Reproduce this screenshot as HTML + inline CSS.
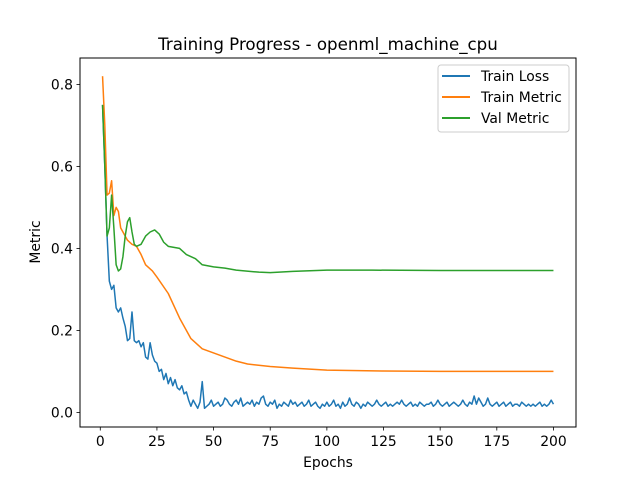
<!DOCTYPE html>
<html><head><meta charset="utf-8"><style>
html,body{margin:0;padding:0;background:#fff;}
svg{display:block;font-family:"DejaVu Sans","Liberation Sans",sans-serif;}
</style></head><body>
<svg id="chart" width="640" height="480" xmlns="http://www.w3.org/2000/svg">
<rect width="640" height="480" fill="#fff"/>
<text x="328" y="50" font-size="16.67" text-anchor="middle">Training Progress - openml_machine_cpu</text>
<g id="plot"></g>
<rect x="80" y="58" width="496" height="369" fill="none" stroke="#000" stroke-width="1"/>
<text x="328" y="467" font-size="13.9" text-anchor="middle">Epochs</text>
<text transform="translate(40,242) rotate(-90)" font-size="13.9" text-anchor="middle">Metric</text>
<g>
<rect x="438" y="65" width="131" height="67" rx="3" fill="#fff" fill-opacity="0.8" stroke="#ccc"/>
<g><line x1="442" y1="76" x2="470" y2="76" stroke="#1f77b4" stroke-width="2"/><text x="481" y="81" font-size="13.9">Train Loss</text></g>
<g><line x1="442" y1="97" x2="470" y2="97" stroke="#ff7f0e" stroke-width="2"/><text x="481" y="102" font-size="13.9">Train Metric</text></g>
<g><line x1="442" y1="118" x2="470" y2="118" stroke="#2ca02c" stroke-width="2"/><text x="481" y="123" font-size="13.9">Val Metric</text></g>
</g>
</svg>
<script>
const xTicks=[0,25,50,75,100,125,150,175,200];
const yTicks=[0.0,0.2,0.4,0.6,0.8];
const lossValues=[0.75,0.6,0.43,0.32,0.30,0.31,0.255,0.245,0.255,0.23,0.21,0.175,0.18,0.245,0.175,0.17,0.175,0.16,0.17,0.135,0.13,0.17,0.14,0.125,0.12,0.10,0.105,0.08,0.095,0.07,0.085,0.065,0.08,0.06,0.055,0.065,0.045,0.05,0.03,0.015,0.03,0.02,0.01,0.025,0.075,0.01,0.015,0.02,0.03,0.015,
0.02,0.025,0.015,0.02,0.035,0.03,0.02,0.015,0.025,0.03,0.02,0.035,0.015,0.02,0.025,0.02,0.03,0.015,0.025,0.02,0.035,0.04,0.02,0.015,0.025,0.02,0.03,0.01,0.02,0.015,0.025,0.02,0.015,0.03,0.02,0.025,0.015,0.02,0.025,0.015,0.02,0.03,0.015,0.02,0.025,0.015,0.01,0.02,0.015,0.025,
0.015,0.02,0.03,0.015,0.02,0.01,0.025,0.015,0.02,0.035,0.02,0.015,0.025,0.02,0.01,0.02,0.015,0.025,0.02,0.015,0.02,0.03,0.02,0.015,0.02,0.025,0.015,0.02,0.015,0.02,0.025,0.02,0.03,0.02,0.015,0.02,0.025,0.015,0.02,0.015,0.025,0.02,0.015,0.02,0.02,0.025,0.015,0.02,0.03,0.02,
0.015,0.02,0.025,0.015,0.02,0.025,0.02,0.015,0.02,0.03,0.02,0.015,0.025,0.02,0.04,0.02,0.035,0.025,0.015,0.02,0.035,0.02,0.015,0.02,0.025,0.015,0.02,0.025,0.015,0.02,0.025,0.015,0.02,0.02,0.015,0.025,0.02,0.015,0.02,0.015,0.02,0.015,0.02,0.025,0.015,0.02,0.015,0.02,0.03,0.02];
const trainEpochs=[1,2,3,4,5,6,7,8,9,10,11,12,14,16,18,20,23,25,30,35,40,45,50,55,60,65,75,85,100,125,150,200];
const trainValues=[0.82,0.7,0.53,0.535,0.565,0.48,0.5,0.49,0.45,0.44,0.43,0.42,0.41,0.405,0.385,0.36,0.345,0.33,0.29,0.23,0.18,0.155,0.145,0.135,0.125,0.118,0.112,0.108,0.103,0.101,0.1,0.1];
const valEpochs=[1,2,3,4,5,6,7,8,9,10,11,12,13,14,15,16,18,20,22,24,26,28,30,35,38,42,45,50,55,60,70,75,85,100,120,150,200];
const valValues=[0.75,0.6,0.43,0.45,0.53,0.45,0.36,0.345,0.35,0.38,0.43,0.465,0.475,0.44,0.41,0.405,0.41,0.43,0.44,0.445,0.435,0.415,0.405,0.4,0.385,0.375,0.36,0.355,0.352,0.347,0.342,0.341,0.344,0.347,0.347,0.346,0.346];

const NS='http://www.w3.org/2000/svg';
const g=document.getElementById('plot');
const xMin=-8.95,xMax=209.95,yMin=-0.0356,yMax=0.8644;
function sx(v){return 80+(v-xMin)/(xMax-xMin)*496;}
function sy(v){return 427-(v-yMin)/(yMax-yMin)*369;}
function mk(tag,attrs){const e=document.createElementNS(NS,tag);for(const k in attrs)e.setAttribute(k,attrs[k]);g.appendChild(e);return e;}
xTicks.forEach(t=>{
  const l=mk('line',{x1:sx(t),x2:sx(t),y1:427,y2:430.5,stroke:'#000','stroke-width':0.8});
  
  
  const tx=mk('text',{x:sx(t),y:446,'font-size':13.9,'text-anchor':'middle'});
  tx.textContent=t;
  
  
});
yTicks.forEach(t=>{
  const l=mk('line',{x1:76.5,x2:80,y1:sy(t),y2:sy(t),stroke:'#000','stroke-width':0.8});
  
  
  const tx=mk('text',{x:73,y:sy(t)+5,'font-size':13.9,'text-anchor':'end'});
  tx.textContent=t.toFixed(1);
  
  
});
function line(xs,ys,color){
  const pts=xs.map((x,i)=>sx(x).toFixed(2)+','+sy(ys[i]).toFixed(2)).join(' ');
  return mk('polyline',{points:pts,fill:'none',stroke:color,'stroke-width':1.5,'stroke-linejoin':'round'});
}
const lossEpochs=lossValues.map((_,i)=>i+1);
const p1=line(lossEpochs,lossValues,'#1f77b4');


const p2=line(trainEpochs,trainValues,'#ff7f0e');


const p3=line(valEpochs,valValues,'#2ca02c');


</script>
</body></html>
